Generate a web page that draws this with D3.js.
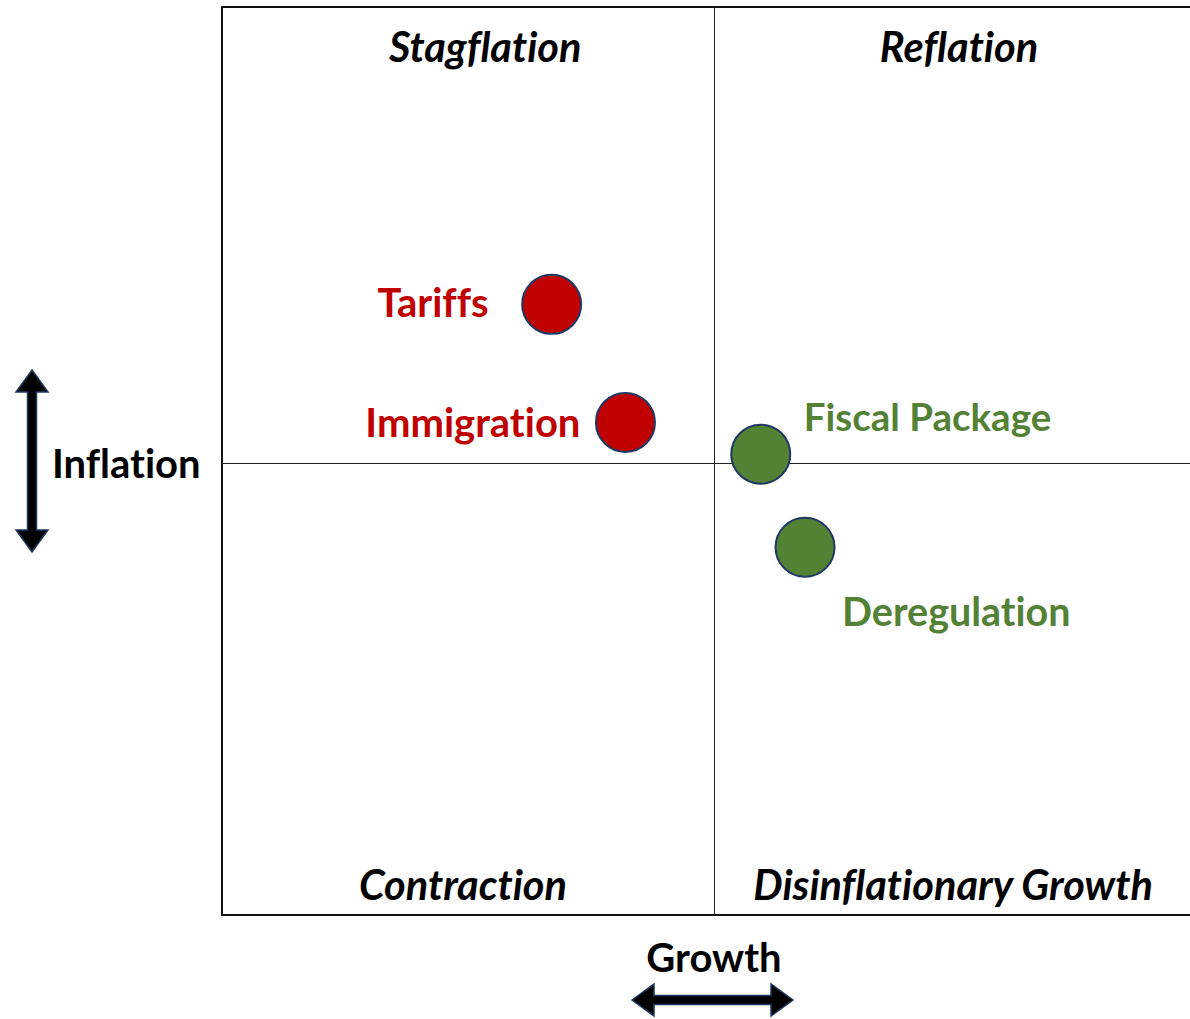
<!DOCTYPE html>
<html>
<head>
<meta charset="utf-8">
<script src="https://cdn.jsdelivr.net/npm/d3@7"></script>
<style>
  body { margin: 0; background: #fff; }
  text { font-family: Lato, "Open Sans", sans-serif; font-weight: bold; font-variant-ligatures: none; }
</style>
</head>
<body>
<div id="chart"></div>
<script>
// policy points: growth impact (x) vs inflation impact (y)
var policies = ["Tariffs", "Immigration", "Fiscal Package", "Deregulation"];
var growthImpact = [-3.3, -1.8, 0.95, 1.85];
var inflationImpact = [3.45, 0.85, 0.15, -1.9];
var groups = ["neg", "neg", "pos", "pos"];

var quadrants = ["Stagflation", "Reflation", "Contraction", "Disinflationary Growth"];
var xAxisLabel = "Growth";
var yAxisLabel = "Inflation";

function init() {
    var w = 1190, h = 1019;

    var colors = { neg: "#c00000", pos: "#548235" };
    var labelColors = { neg: "#c00000", pos: "#538135" };

    var xScale = d3.scaleLinear().domain([-10, 10]).range([222, 1206]);
    var yScale = d3.scaleLinear().domain([-10, 10]).range([915, 7]);

    var svg = d3.select("#chart")
                .append("svg")
                .attr("width", w)
                .attr("height", h);

    // outer box (right edge falls outside the picture)
    svg.append("rect")
       .attr("x", xScale(-10))
       .attr("y", yScale(10))
       .attr("width", xScale(10) - xScale(-10))
       .attr("height", yScale(-10) - yScale(10))
       .attr("fill", "none")
       .attr("stroke", "#111")
       .attr("stroke-width", 2);

    // cross lines
    svg.append("line")
       .attr("x1", xScale(0) + 0.5).attr("x2", xScale(0) + 0.5)
       .attr("y1", yScale(10)).attr("y2", yScale(-10))
       .attr("stroke", "#222").attr("stroke-width", 1);
    svg.append("line")
       .attr("x1", xScale(-10)).attr("x2", xScale(10))
       .attr("y1", yScale(0) + 2.5).attr("y2", yScale(0) + 2.5)
       .attr("stroke", "#222").attr("stroke-width", 1);

    // quadrant titles
    var qx = [-4.65, 4.98, -5.1, 4.86];
    var qy = [62, 62, 900, 900];
    svg.selectAll("text.quad")
       .data(quadrants)
       .enter()
       .append("text")
       .attr("class", "quad")
       .attr("x", function(d, i) { return xScale(qx[i]); })
       .attr("y", function(d, i) { return qy[i]; })
       .attr("text-anchor", "middle")
       .attr("font-style", "italic")
       .attr("font-size", 41.5)
       .attr("fill", "#000")
       .text(function(d) { return d; });

    // points
    svg.selectAll("circle")
       .data(policies)
       .enter()
       .append("circle")
       .attr("cx", function(d, i) { return xScale(growthImpact[i]); })
       .attr("cy", function(d, i) { return yScale(inflationImpact[i]); })
       .attr("r", 29.5)
       .attr("fill", function(d, i) { return colors[groups[i]]; })
       .attr("stroke", "#1f3864")
       .attr("stroke-width", 2);

    // labels, placed relative to their point
    var dx = [-63, -45, 43, 37];
    var dy = [13, 15, -23, 79];
    var anchors = ["end", "end", "start", "start"];
    var sizes = [40, 40, 38.5, 39.5];
    svg.selectAll("text.lbl")
       .data(policies)
       .enter()
       .append("text")
       .attr("class", "lbl")
       .attr("x", function(d, i) { return xScale(growthImpact[i]) + dx[i]; })
       .attr("y", function(d, i) { return yScale(inflationImpact[i]) + dy[i]; })
       .attr("text-anchor", function(d, i) { return anchors[i]; })
       .attr("font-size", function(d, i) { return sizes[i]; })
       .attr("fill", function(d, i) { return labelColors[groups[i]]; })
       .text(function(d) { return d; });

    // axis labels
    svg.append("text")
       .attr("x", 52).attr("y", 478)
       .attr("font-size", 40)
       .attr("fill", "#000")
       .text(yAxisLabel);
    svg.append("text")
       .attr("x", xScale(0)).attr("y", 972)
       .attr("text-anchor", "middle")
       .attr("font-size", 40)
       .attr("fill", "#000")
       .text(xAxisLabel);

    // double arrows
    var vx = 32, vy1 = 370, vy2 = 552, sw = 4.5, hw = 16, hl = 22;
    svg.append("path")
       .attr("d", "M" + vx + "," + vy1 +
                  "L" + (vx + hw) + "," + (vy1 + hl) + "L" + (vx + sw) + "," + (vy1 + hl) +
                  "L" + (vx + sw) + "," + (vy2 - hl) + "L" + (vx + hw) + "," + (vy2 - hl) +
                  "L" + vx + "," + vy2 +
                  "L" + (vx - hw) + "," + (vy2 - hl) + "L" + (vx - sw) + "," + (vy2 - hl) +
                  "L" + (vx - sw) + "," + (vy1 + hl) + "L" + (vx - hw) + "," + (vy1 + hl) + "Z")
       .attr("fill", "#000")
       .attr("stroke", "#1f3864")
       .attr("stroke-width", 1.5);

    var hx1 = 632, hx2 = 793, hy = 1000;
    svg.append("path")
       .attr("d", "M" + hx1 + "," + hy +
                  "L" + (hx1 + hl) + "," + (hy - hw) + "L" + (hx1 + hl) + "," + (hy - sw) +
                  "L" + (hx2 - hl) + "," + (hy - sw) + "L" + (hx2 - hl) + "," + (hy - hw) +
                  "L" + hx2 + "," + hy +
                  "L" + (hx2 - hl) + "," + (hy + hw) + "L" + (hx2 - hl) + "," + (hy + sw) +
                  "L" + (hx1 + hl) + "," + (hy + sw) + "L" + (hx1 + hl) + "," + (hy + hw) + "Z")
       .attr("fill", "#000")
       .attr("stroke", "#1f3864")
       .attr("stroke-width", 1.5);
}

window.onload = init;
</script>
</body>
</html>
